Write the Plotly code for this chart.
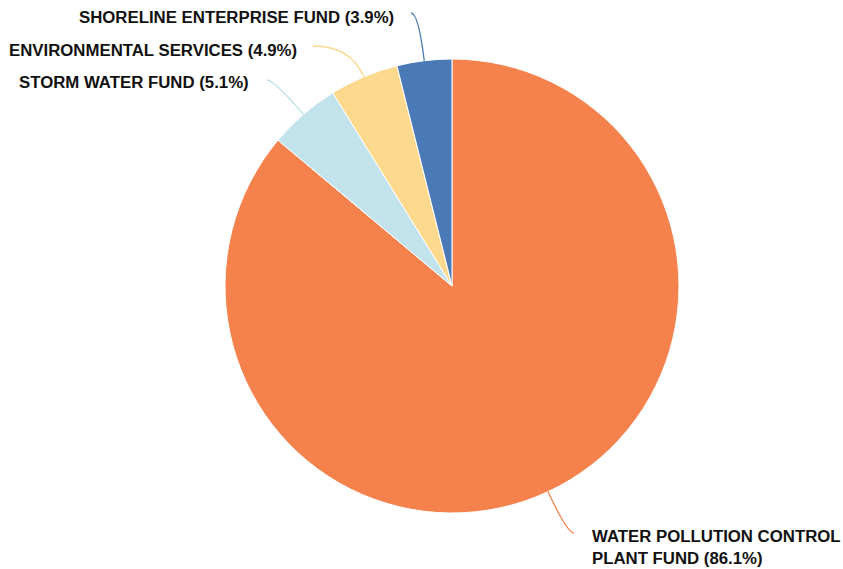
import math
import plotly.graph_objects as go

# Fund shares (%), in clockwise order starting at 12 o'clock
funds = ["WATER POLLUTION CONTROL PLANT FUND", "STORM WATER FUND",
         "ENVIRONMENTAL SERVICES", "SHORELINE ENTERPRISE FUND"]
shares = [86.1, 5.1, 4.9, 3.9]
colors = ["#F5814C", "#C2E2EC", "#FCD98C", "#4A7AB5"]

W, H = 843, 569
CX, CY, R = 452, 286, 227  # pie centre and radius in pixels

# where each callout text sits (pixels) and its anchor side
label_pos = [(590, 547, "left"), (251, 83, "right"), (299, 50, "right"), (396, 17, "right")]
# end point of each leader line (pixels)
leader_end = [(574, 533), (267, 80), (313, 46), (411, 13)]


def px(x, y):
    return x / W, 1 - y / H


fig = go.Figure(go.Pie(
    labels=funds, values=shares, sort=False, direction="clockwise", rotation=0,
    marker=dict(colors=colors, line=dict(color="white", width=1)),
    textinfo="none", hoverinfo="label+percent", showlegend=False,
    domain=dict(x=[(CX - R) / W, (CX + R) / W], y=[(H - CY - R) / H, (H - CY + R) / H]),
))

total = sum(shares)
cum = 0
shapes, annotations = [], []
for name, v, col, (lx, ly, side), (ex, ey) in zip(funds, shares, colors, label_pos, leader_end):
    mid = (cum + v / 2) / total * 2 * math.pi
    cum += v
    dx, dy = math.sin(mid), -math.cos(mid)
    sx, sy = CX + R * dx, CY + R * dy
    # control point: continue radially until reaching the level of the end point
    t = (ey - sy) / dy if abs(dy) > 1e-6 else 30
    qx, qy = sx + dx * t, sy + dy * t
    p0, p1, p2 = px(sx, sy), px(qx, qy), px(ex, ey)
    shapes.append(dict(
        type="path", xref="paper", yref="paper",
        path=f"M {p0[0]},{p0[1]} Q {p1[0]},{p1[1]} {p2[0]},{p2[1]}",
        line=dict(color=col, width=1.3),
    ))
    pct = f"({v}%)"
    text = (f"{name} {pct}" if side == "right"
            else "WATER POLLUTION CONTROL<br>PLANT FUND " + pct)
    ax, ay = px(lx, ly)
    annotations.append(dict(
        x=ax, y=ay, xref="paper", yref="paper", text=f"<b>{text}</b>", showarrow=False,
        xanchor=side, yanchor="middle", align="left",
        font=dict(family="Liberation Sans, Arial, sans-serif", size=16.8, color="#111111"),
    ))

fig.update_layout(
    width=W, height=H, margin=dict(l=0, r=0, t=0, b=0),
    paper_bgcolor="white", plot_bgcolor="white",
    shapes=shapes, annotations=annotations,
)

fig.write_html("out.html")
